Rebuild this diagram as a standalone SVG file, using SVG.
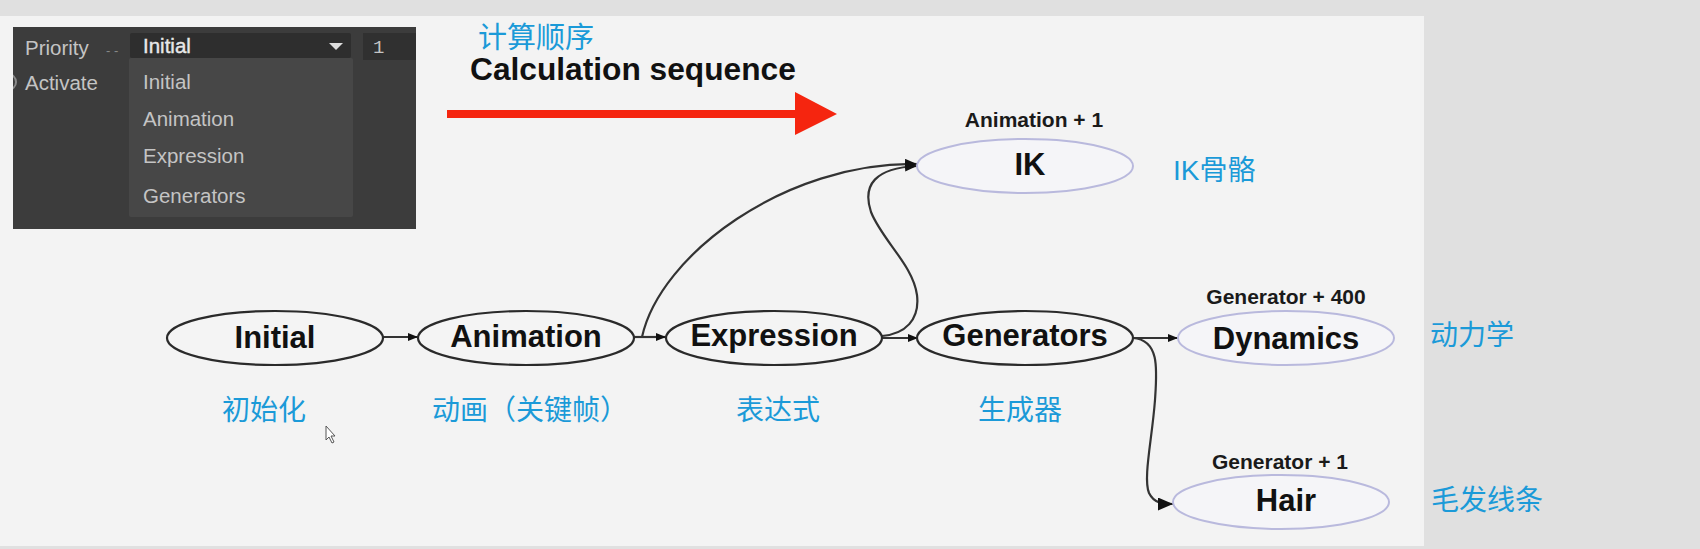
<svg xmlns="http://www.w3.org/2000/svg" width="1700" height="549" viewBox="0 0 1700 549">
<style>
.node{font-family:"Liberation Sans",Arial,sans-serif;font-weight:bold;font-size:31px;fill:#111;text-anchor:middle}
.prio{font-family:"Liberation Sans",Arial,sans-serif;font-weight:bold;font-size:21px;fill:#1a1a1a;text-anchor:middle}
.cn{font-family:"Liberation Sans","Noto Sans CJK SC",sans-serif;font-size:28px;fill:#1b9ad8}
.ui{font-family:"Liberation Sans",Arial,sans-serif;font-size:20.5px;fill:#c4c4c4}
.e1{fill:#f4f4f4;stroke:#2a2a2a;stroke-width:2.2}
.e2{fill:#f5f5f8;stroke:#b9b9dd;stroke-width:2}
.conn{fill:none;stroke:#333;stroke-width:2.2}
</style>
<defs>
<marker id="aS" markerUnits="userSpaceOnUse" markerWidth="10" markerHeight="8" refX="10" refY="4" orient="auto"><path d="M0,0 L10,4 L0,8 Z" fill="#111"/></marker>
<marker id="aM" markerUnits="userSpaceOnUse" markerWidth="12" markerHeight="10" refX="12" refY="5" orient="auto"><path d="M0,0 L12,5 L0,10 Z" fill="#111"/></marker>
<marker id="aL" markerUnits="userSpaceOnUse" markerWidth="15" markerHeight="13" refX="15" refY="6.5" orient="auto"><path d="M0,0 L15,6.5 L0,13 Z" fill="#111"/></marker>
<clipPath id="panelClip"><rect x="13" y="27" width="403" height="202"/></clipPath>
</defs>
<rect x="0" y="0" width="1700" height="549" fill="#e0e0e0"/>
<rect x="0" y="16" width="1424" height="530" fill="#f3f3f3"/>

<g id="ui-panel">
<rect x="13" y="27" width="403" height="202" fill="#3c3c3c"/>
<circle cx="8" cy="82" r="8" fill="none" stroke="#8a8a8a" stroke-width="2" clip-path="url(#panelClip)"/>
<text class="ui" x="25" y="55">Priority</text>
<text class="ui" x="106" y="55" style="font-size:13px;fill:#888">- -</text>
<text class="ui" x="25" y="90">Activate</text>
<rect x="130" y="33" width="221" height="25" rx="2" fill="#2e2e2e"/>
<text class="ui" x="143" y="53" style="fill:#e8e8e8;font-size:20.5px;stroke:#e8e8e8;stroke-width:0.4">Initial</text>
<path d="M329,43 L343,43 L336,50 Z" fill="#dedede"/>
<rect x="363" y="33" width="53" height="27" fill="#303030"/>
<text class="ui" x="373" y="53" style="font-family:'Liberation Mono',monospace;font-size:19px">1</text>
<rect x="129" y="58" width="224" height="159" rx="2" fill="#474747"/>
<text class="ui" x="143" y="89">Initial</text>
<text class="ui" x="143" y="126">Animation</text>
<text class="ui" x="143" y="163">Expression</text>
<text class="ui" x="143" y="203">Generators</text>
</g>

<g id="title">
<text class="cn" x="478" y="48" style="font-size:29px">计算顺序</text>
<text x="470" y="80" style="font-family:'Liberation Sans',Arial,sans-serif;font-weight:bold;font-size:31.7px;fill:#111">Calculation sequence</text>
<path d="M447,110 L795,110 L795,92 L837,114 L795,135 L795,118 L447,118 Z" fill="#f5250f"/>
</g>

<g id="connectors">
<path class="conn" d="M383,337 L418,337" marker-end="url(#aS)"/>
<path class="conn" d="M634,337 L666,337" marker-end="url(#aS)"/>
<path class="conn" d="M882,338 L918,338" marker-end="url(#aS)"/>
<path class="conn" d="M1133,338 L1178,338" marker-end="url(#aS)"/>
<path class="conn" d="M634,337 L642,337 C660,255 785,162 917,164" marker-end="url(#aM)"/>
<path class="conn" d="M882,336 C905,334 920,320 917,295 C913,265 882,240 871,212 C862,185 875,168 917,166" marker-end="url(#aM)"/>
<path class="conn" d="M1133,338 C1160,340 1157,370 1155,400 C1152,440 1143,478 1149,493 C1154,503 1162,504 1173,504" marker-end="url(#aL)"/>
</g>

<g id="node-initial">
<ellipse class="e1" cx="275" cy="338" rx="108" ry="27"/>
<text class="node" x="275" y="348">Initial</text>
<text class="cn" x="264" y="420" text-anchor="middle">初始化</text>
</g>
<g id="node-animation">
<ellipse class="e1" cx="526" cy="338" rx="108" ry="27"/>
<text class="node" x="526" y="347">Animation</text>
<text class="cn" x="530" y="420" text-anchor="middle">动画（关键帧）</text>
</g>
<g id="node-expression">
<ellipse class="e1" cx="774" cy="338" rx="108" ry="27"/>
<text class="node" x="774" y="346">Expression</text>
<text class="cn" x="778" y="420" text-anchor="middle">表达式</text>
</g>
<g id="node-generators">
<ellipse class="e1" cx="1025" cy="338" rx="108" ry="27"/>
<text class="node" x="1025" y="346">Generators</text>
<text class="cn" x="1020" y="420" text-anchor="middle">生成器</text>
</g>
<g id="node-ik">
<text class="prio" x="1034" y="127">Animation + 1</text>
<ellipse class="e2" cx="1025" cy="166" rx="108" ry="27"/>
<text class="node" x="1030" y="175">IK</text>
<text class="cn" x="1173" y="180">IK骨骼</text>
</g>
<g id="node-dynamics">
<text class="prio" x="1286" y="304">Generator + 400</text>
<ellipse class="e2" cx="1286" cy="338" rx="108" ry="27"/>
<text class="node" x="1286" y="349">Dynamics</text>
<text class="cn" x="1430" y="345">动力学</text>
</g>
<g id="node-hair">
<text class="prio" x="1280" y="469">Generator + 1</text>
<ellipse class="e2" cx="1281" cy="502" rx="108" ry="27"/>
<text class="node" x="1286" y="511">Hair</text>
<text class="cn" x="1431" y="510">毛发线条</text>
</g>

<path d="M326,426 L326,440 L329,437 L332,443 L334,442 L331,436 L335,436 Z" fill="#fff" stroke="#555" stroke-width="1"/>
</svg>
